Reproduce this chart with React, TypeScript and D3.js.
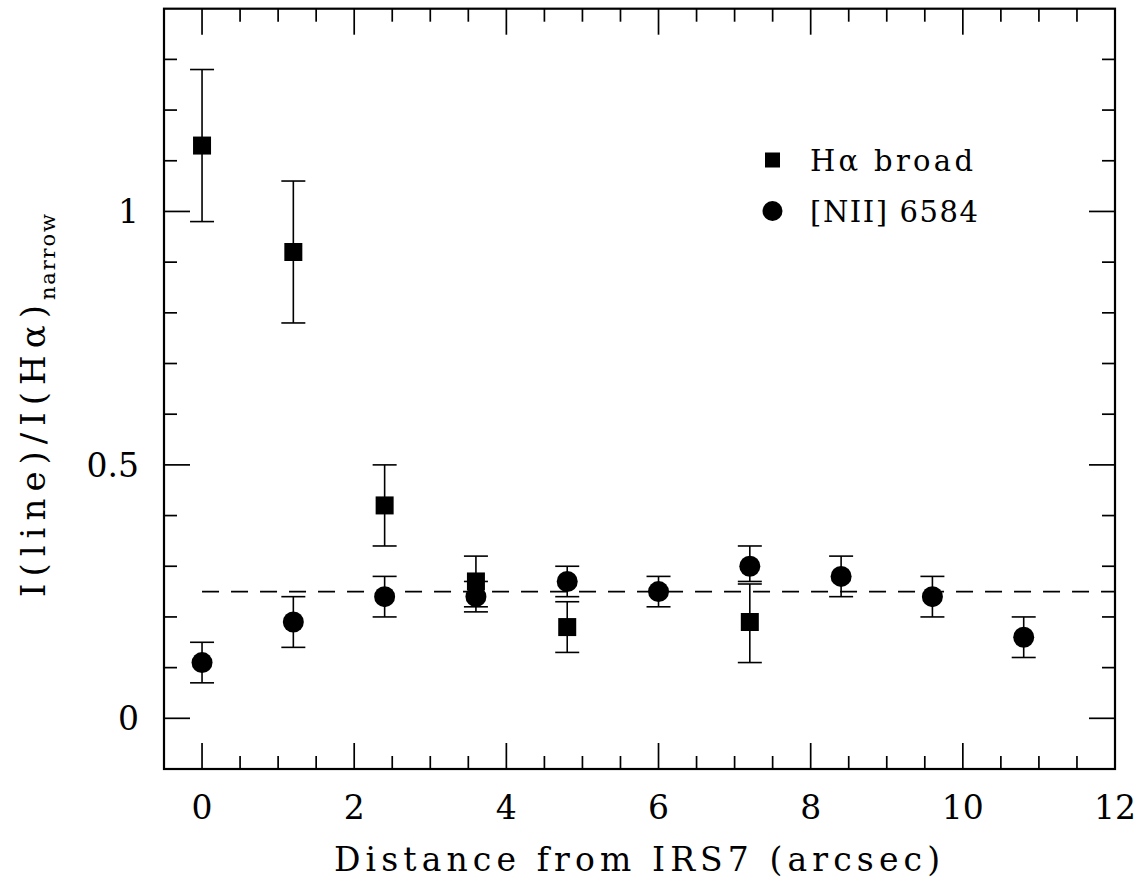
import React from "react";
import * as d3 from "d3";

// ---- data ----
const broadX = [0, 1.2, 2.4, 3.6, 4.8, 7.2];
const broadY = [1.13, 0.92, 0.42, 0.27, 0.18, 0.19];
const broadLo = [0.98, 0.78, 0.34, 0.22, 0.13, 0.11];
const broadHi = [1.28, 1.06, 0.5, 0.32, 0.23, 0.265];

const niiX = [0, 1.2, 2.4, 3.6, 4.8, 6.0, 7.2, 8.4, 9.6, 10.8];
const niiY = [0.11, 0.19, 0.24, 0.24, 0.27, 0.25, 0.3, 0.28, 0.24, 0.16];
const niiLo = [0.07, 0.14, 0.2, 0.21, 0.24, 0.22, 0.27, 0.24, 0.2, 0.12];
const niiHi = [0.15, 0.24, 0.28, 0.27, 0.3, 0.28, 0.34, 0.32, 0.28, 0.2];

const refLevel = 0.25;
const xMajorTicks = [0, 2, 4, 6, 8, 10, 12];
const yMajorTicks = [0, 0.5, 1];
const yTickLabels = ["0", "0.5", "1"];
const legendLabels = ["H\u03b1 broad", "[NII] 6584"];
const xTitle = "Distance from IRS7 (arcsec)";
const yTitleMain = "I(line)/I(H\u03b1)";
const yTitleSub = "narrow";

const W = 1148;
const H = 886;
const L = 164, R = 1115, T = 8.7, B = 769;

const x = d3.scaleLinear().domain([-0.5, 12]).range([L, R]);
const y = d3.scaleLinear().domain([-0.1, 1.4]).range([B, T]);

const FONT = "'DejaVu Serif', serif";

export default function App() {
  const xMinor = d3.range(0, 12, 0.5).filter((v) => Math.abs(v % 2) > 1e-6);
  const xMajor = d3.range(0, 12, 2);
  const yMinor = d3.range(1, 14).map((k) => k / 10).filter((v) => Math.abs(v - 0.5) > 1e-6 && Math.abs(v - 1) > 1e-6);
  const yMajor = yMajorTicks;
  const MAJ = 26, MIN = 13;
  const cap = 12;
  const sw = 1.6;

  return (
    <svg width={W} height={H} style={{ position: "absolute", left: 0, top: 0, background: "#fff" }}>
      <rect x={0} y={0} width={W} height={H} fill="#fff" />
      {/* ticks */}
      <g stroke="#000" strokeWidth={1.7}>
        {xMajor.map((v) => (
          <g key={"xM" + v}>
            <line x1={x(v)} x2={x(v)} y1={B} y2={B - MAJ} />
            <line x1={x(v)} x2={x(v)} y1={T} y2={T + MAJ} />
          </g>
        ))}
        {xMinor.map((v) => (
          <g key={"xm" + v}>
            <line x1={x(v)} x2={x(v)} y1={B} y2={B - MIN} />
            <line x1={x(v)} x2={x(v)} y1={T} y2={T + MIN} />
          </g>
        ))}
        {yMajor.map((v) => (
          <g key={"yM" + v}>
            <line x1={L} x2={L + MAJ} y1={y(v)} y2={y(v)} />
            <line x1={R} x2={R - MAJ} y1={y(v)} y2={y(v)} />
          </g>
        ))}
        {yMinor.map((v) => (
          <g key={"ym" + v}>
            <line x1={L} x2={L + MIN} y1={y(v)} y2={y(v)} />
            <line x1={R} x2={R - MIN} y1={y(v)} y2={y(v)} />
          </g>
        ))}
      </g>
      {/* frame */}
      <rect x={L} y={T} width={R - L} height={B - T} fill="none" stroke="#000" strokeWidth={2.2} />

      {/* reference dashed line */}
      <line x1={x(0)} x2={x(12)} y1={y(refLevel)} y2={y(refLevel)} stroke="#000" strokeWidth={1.6} strokeDasharray="17 12" />

      {/* error bars */}
      <g stroke="#000" strokeWidth={sw}>
        {broadX.map((v, i) => (
          <g key={"be" + i}>
            <line x1={x(v)} x2={x(v)} y1={y(broadLo[i])} y2={y(broadHi[i])} />
            <line x1={x(v) - cap} x2={x(v) + cap} y1={y(broadLo[i])} y2={y(broadLo[i])} />
            <line x1={x(v) - cap} x2={x(v) + cap} y1={y(broadHi[i])} y2={y(broadHi[i])} />
          </g>
        ))}
        {niiX.map((v, i) => (
          <g key={"ne" + i}>
            <line x1={x(v)} x2={x(v)} y1={y(niiLo[i])} y2={y(niiHi[i])} />
            <line x1={x(v) - cap} x2={x(v) + cap} y1={y(niiLo[i])} y2={y(niiLo[i])} />
            <line x1={x(v) - cap} x2={x(v) + cap} y1={y(niiHi[i])} y2={y(niiHi[i])} />
          </g>
        ))}
      </g>
      {/* markers */}
      {broadX.map((v, i) => (
        <rect key={"bs" + i} x={x(v) - 9} y={y(broadY[i]) - 9} width={18} height={18} fill="#000" />
      ))}
      {niiX.map((v, i) => (
        <circle key={"nc" + i} cx={x(v)} cy={y(niiY[i])} r={10.5} fill="#000" />
      ))}

      {/* legend */}
      <rect x={765} y={152.5} width={15} height={15} fill="#000" />
      <circle cx={772.5} cy={211} r={10} fill="#000" />
      <text x={810} y={171} fontFamily={FONT} fontSize={29} textLength={163} lengthAdjust="spacing">{legendLabels[0]}</text>
      <text x={810} y={222} fontFamily={FONT} fontSize={29} textLength={168} lengthAdjust="spacing">{legendLabels[1]}</text>

      {/* x tick labels */}
      {xMajorTicks.map((v) => (
        <text key={"xl" + v} x={x(v)} y={819} textAnchor="middle" fontFamily={FONT} fontSize={33}>{String(v)}</text>
      ))}
      {/* y tick labels */}
      {yMajorTicks.map((v, i) => (
        <text key={"yl" + v} x={139} y={y(v) + 12} textAnchor="end" fontFamily={FONT} fontSize={33}>{yTickLabels[i]}</text>
      ))}

      {/* axis titles */}
      <text x={334} y={871} fontFamily={FONT} fontSize={33} textLength={606} lengthAdjust="spacing">{xTitle}</text>
      <text transform="translate(45,597) rotate(-90)" fontFamily={FONT} fontSize={34} textLength={292} lengthAdjust="spacing">{yTitleMain}</text>
      <text transform="translate(55,300) rotate(-90)" fontFamily={FONT} fontSize={21} textLength={86} lengthAdjust="spacing">{yTitleSub}</text>
    </svg>
  );
}
